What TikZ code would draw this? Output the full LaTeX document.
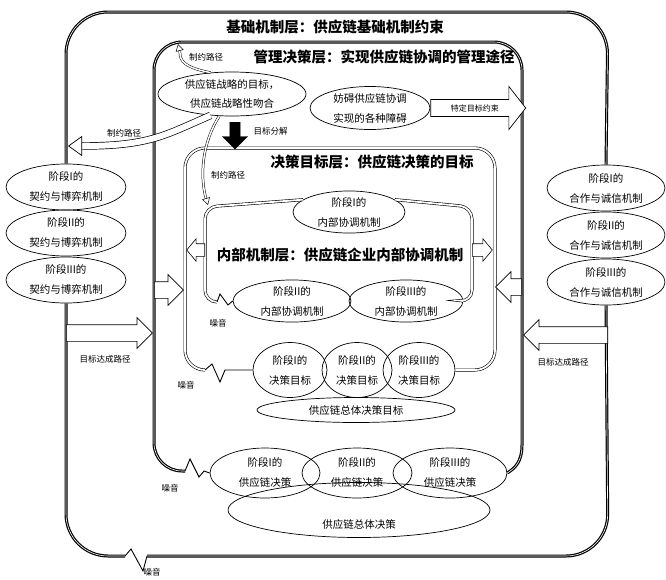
\documentclass[tikz,border=0pt]{standalone}
\usepackage{fontspec}
\setmainfont{Noto Sans CJK SC}
\usetikzlibrary{shapes.geometric,shapes.arrows,arrows.meta}
\tikzset{
  baseline/.style={draw=black, line width=1.2pt, double=white, double distance=0.6pt},
  thinlayer/.style={draw=black, line width=0.6pt, double=white, double distance=1.8pt},
  noise/.style={draw=black, line width=0.9pt},
  oval/.style={ellipse, draw, line width=0.7pt, inner sep=0pt, align=center, font=\fontsize{10.5}{20}\selectfont},
  layertitle/.style={font=\fontsize{14.5}{16}\selectfont\bfseries},
  smalltext/.style={font=\fontsize{8.5}{10}\selectfont},
  pathto/.style={single arrow, draw, fill=white, line width=0.7pt, inner xsep=0pt, inner ysep=8pt, single arrow head extend=7pt, single arrow tip angle=90, anchor=tail},
  smallpath/.style={single arrow, draw, fill=white, line width=0.6pt, inner xsep=0pt, inner ysep=6pt, single arrow head extend=5pt, single arrow tip angle=100, anchor=tail},
  hollowcurve/.style={draw=black, line width=0.7pt, double=white, double distance=6pt, -{Triangle[open, length=14pt, width=20pt]}},
  thincurve/.style={draw=black, line width=0.5pt, double=white, double distance=1.5pt, -{Triangle[open, length=7pt, width=8pt]}},
}
\begin{document}
\begin{tikzpicture}[x=1pt, y=-1pt]
  \useasboundingbox (0,0) rectangle (666,579);

  \node[oval, minimum width=120pt, minimum height=46pt] (L1) at (66,187) {阶段I的\\契约与博弈机制};
  \node[oval, minimum width=120pt, minimum height=46pt] (L2) at (66,233) {阶段II的\\契约与博弈机制};
  \node[oval, minimum width=120pt, minimum height=46pt] (L3) at (66,280) {阶段III的\\契约与博弈机制};
  \node[oval, minimum width=118pt, minimum height=46pt] (R1) at (606,188) {阶段I的\\合作与诚信机制};
  \node[oval, minimum width=118pt, minimum height=46pt] (R2) at (606,235) {阶段II的\\合作与诚信机制};
  \node[oval, minimum width=118pt, minimum height=46pt] (R3) at (606,282) {阶段III的\\合作与诚信机制};

  \node[oval, minimum width=148pt, minimum height=44pt] (A) at (232,94) {供应链战略的目标，\\供应链战略性吻合};
  \node[oval, minimum width=120pt, minimum height=43pt] (B) at (370,108) {妨碍供应链协调\\实现的各种障碍};

  \node[oval, minimum width=112pt, minimum height=42pt] (I1) at (349,212) {阶段I的\\内部协调机制};
  \node[oval, minimum width=118pt, minimum height=38pt] (I2) at (292,301) {阶段II的\\内部协调机制};
  \node[oval, minimum width=114pt, minimum height=40pt] (I3) at (406,301) {阶段III的\\内部协调机制};

  \node[oval, minimum width=198pt, minimum height=25pt] (Ttot) at (356,410) {供应链总体决策目标};
  \node[oval, minimum width=74pt, minimum height=55pt] (T1) at (290,370) {阶段I的\\决策目标};
  \node[oval, minimum width=70pt, minimum height=55pt] (T2) at (357,370) {阶段II的\\决策目标};
  \node[oval, minimum width=72pt, minimum height=55pt] (T3) at (419,370) {阶段III的\\决策目标};

  \node[oval, minimum width=262pt, minimum height=55pt, label={[anchor=south, yshift=5pt, font=\fontsize{10.5}{12}\selectfont]south:供应链总体决策}] (Dtot) at (359,510) {};
  \node[oval, minimum width=110pt, minimum height=50pt] (D1) at (265,473) {阶段I的\\供应链决策};
  \node[oval, minimum width=110pt, minimum height=50pt] (D2) at (357,473) {阶段II的\\供应链决策};
  \node[oval, minimum width=114pt, minimum height=50pt] (D3) at (450,473) {阶段III的\\供应链决策};

  \draw[baseline, rounded corners=42pt] (L1.north) -- (66,12) -- (608,12) -- (R1.north);
  \draw[baseline, rounded corners=42pt] (R3.south) -- (608,556) -- (147,556);
  \draw[noise] (147,556) -- (143,571) -- (131,549) -- (125,556);
  \draw[baseline, rounded corners=42pt] (125,556) -- (66,556) -- (L3.south);
  \node[layertitle] (baseT) at (335,27) {基础机制层：供应链基础机制约束};
  \node[smalltext] (noise1) at (152,572) {噪音};

  \draw[baseline, rounded corners=28pt] (185,471) -- (154,471) -- (154,42) -- (522,42) -- (522,445);
  \draw[baseline] (522,445) .. controls (522,462) and (515,468) .. (D3.east);
  \draw[noise] (185,471) -- (190,459) -- (199,477) -- (204,471) -- (D1.west);
  \node[layertitle] (mgmtT) at (384,57) {管理决策层：实现供应链协调的管理途径};
  \node[smalltext] (noise2) at (170,488) {噪音};

  \draw[thinlayer, rounded corners=20pt] (205,370) -- (185,370) -- (185,148) -- (495,148) -- (495,370) -- (T3.east);
  \draw[noise] (205,370) -- (212,364) -- (220,382) -- (225,370) -- (T1.west);
  \node[layertitle] (tgtT) at (372,162) {决策目标层：供应链决策的目标};
  \node[smalltext] (noise3) at (186,385) {噪音};

  \draw[thinlayer, rounded corners=12pt] (I1.165) -- (205,207) -- (205,302) -- (217,302);
  \draw[noise] (217,302) -- (220,294) -- (228,305) -- (I2.west);
  \draw[thinlayer, rounded corners=12pt] (I3.east) -- (472,302) -- (472,207) -- (I1.15);
  \node[layertitle] (innerT) at (340,255) {内部机制层：供应链企业内部协调机制};
  \node[smalltext] (noise4) at (218,323) {噪音};

  \coordinate (topTip) at (178,44);
  \coordinate (leftTip) at (68,146);
  \coordinate (innerTip) at (208,205);
  \draw[thincurve] (A.135) .. controls (176,66) and (181,56) .. (topTip);
  \node[smalltext] (capTop) at (206,57) {制约路径};
  \draw[hollowcurve] (A.225) .. controls (165,135) and (150,146) .. (leftTip);
  \node[smalltext] (capLeft) at (124,133) {制约路径};
  \draw[thincurve] (A.240) .. controls (198,150) and (202,185) .. (innerTip);
  \node[smalltext] (capInner) at (228,175) {制约路径};

  \node[single arrow, draw, line width=0.7pt, fill=white, inner xsep=0pt, inner ysep=4.5pt, single arrow head extend=13pt, single arrow tip angle=104, anchor=tail, minimum height=95pt, font=\fontsize{8}{9}\selectfont] (cons) at (B.east) {特定目标约束};
  \node[single arrow, draw, fill=black, inner sep=5pt, single arrow head extend=7.5pt, shape border rotate=270, anchor=tail, minimum height=27pt] (split) at (235,122) {};
  \node[smalltext, anchor=west] (splitT) at (250,131) {目标分解};

  \node[smallpath, minimum height=18pt, shape border rotate=180] (inL) at (205,250) {};
  \node[smallpath, minimum height=20pt] (inR) at (472,250) {};

  \fill (154,282) rectangle (160,298);
  \node[pathto, minimum height=29pt] (mgL) at (154,290) {};
  \fill (516,279) rectangle (522,295);
  \node[pathto, minimum height=26pt, shape border rotate=180] (mgR) at (522,287) {};

  \fill (66,325) rectangle (75,341);
  \node[pathto, minimum height=86pt] (baseL) at (66,333) {};
  \node[smalltext] (pathL) at (105,359) {目标达成路径};
  \fill (599,327) rectangle (608,343);
  \node[pathto, minimum height=84pt, shape border rotate=180] (baseR) at (608,335) {};
  \node[smalltext] (pathR) at (563,362) {目标达成路径};
\end{tikzpicture}
\end{document}
